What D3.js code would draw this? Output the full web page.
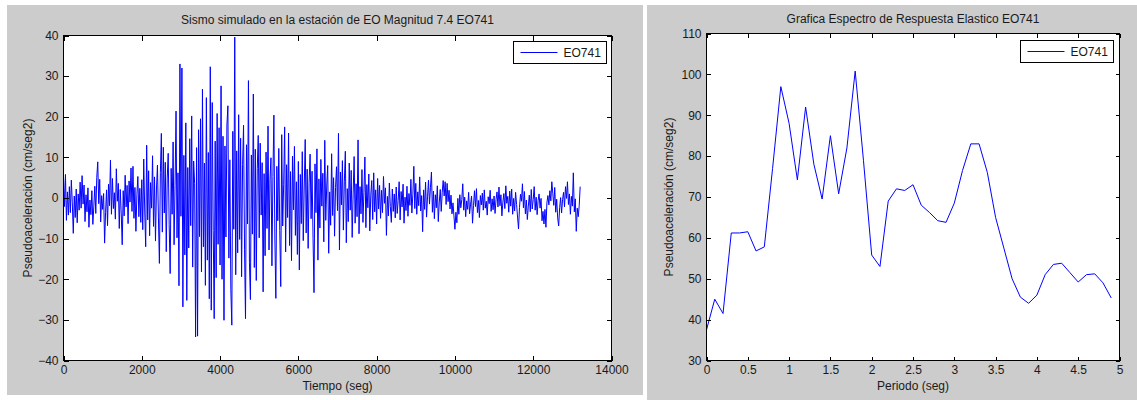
<!DOCTYPE html>
<html>
<head>
<meta charset="utf-8">
<script src="https://cdn.jsdelivr.net/npm/d3@7"></script>
<style>
  html, body { margin: 0; padding: 0; background: #ffffff; }
  svg { display: block; }
  text { font-family: "Liberation Sans", Arial, Helvetica, sans-serif; font-size: 12px; fill: #1a1a1a; }
</style>
</head>
<body>
<svg id="fig" width="1137" height="400"></svg>
<script>
// ---- Accelerogram: simulated record at station EO, sampled every 25 s ----
const sampleStep = 25;
const accel = [
  5.2, -2.1, 5.8, -5.5, 1.5, -4.2, 2.8, -3.6, 4.4, -1.2, -8.7, 0.5, -4.8, 2.2, -6.1, 1.0, -3.0, 3.9, -2.5, 5.5,
  -1.5, 3.2, -5.8, 0.8, -3.4, 2.5, -7.2, -0.5, -4.1, 1.8, -6.5, -2.0, 2.9, -3.8, 5.1, 8.9, -1.4, 4.6, -5.9, 0.6,
  -2.8, 1.1, -11.1, -3.5, 2.0, -6.8, 3.4, -1.9, 9.3, -4.0, 4.8, -2.6, 1.3, -5.2, 7.2, -0.8, 3.6, -7.5, 2.1, -3.9,
  -11.5, 1.8, -4.4, 5.6, -2.2, 3.1, -6.3, 4.2, -1.0, 7.4, -3.3, 7.8, -5.0, 2.6, -8.2, 0.9, 5.3, -4.6, 2.4, -6.0,
  4.5, -7.8, 9.6, -3.2, -12.0, 13.0, -5.4, 6.7, -9.3, 3.8, -2.5, 10.4, -7.0, 5.2, -10.6, 2.2, 8.1, -4.7, -16.1, 6.3,
  15.9, -8.4, 12.5, -3.7, 8.8, -13.2, 4.9, 11.0, -6.6, -18.6, 7.3, -4.0, 13.8, -11.5, 3.0, 21.4, -9.8, 6.2, -21.6, 33.0,
  -4.5, 32.0, -26.8, 10.5, -14.0, 18.5, -25.2, 7.5, -12.3, 14.6, -6.8, 20.2, -17.0, 9.1, 3.5, -34.2, 12.4, -34.0, 16.8, -9.5,
  19.5, -18.2, 26.8, -12.0, 8.6, -21.5, 24.7, -15.3, 11.2, -24.8, 32.3, -27.6, 23.5, -8.0, -29.7, 14.0, -19.6, 20.8, -11.4, 17.3,
  -16.5, 27.6, -20.0, 15.2, -30.1, 12.8, -9.6, 18.0, 22.7, -14.8, 9.4, -22.6, -31.3, 16.4, -7.7, 39.6, -18.9, 11.6, -13.5, 20.5,
  -10.2, 14.7, -19.4, 8.3, 17.9, -12.6, -29.7, 13.1, -6.4, 28.9, -15.8, -25.0, 10.6, -8.9, 25.6, -17.1, 12.0, -20.3, 7.2, 15.4,
  -9.8, 13.5, -4.2, 8.7, -23.1, 6.0, -14.2, 11.3, -7.5, 17.7, -12.8, 4.6, 9.9, -16.7, 5.3, 20.4, -10.1, -24.7, 7.8, -5.6,
  12.2, -8.0, -21.8, 15.6, -6.9, 3.4, 17.5, -13.3, 8.2, -4.8, 16.0, -11.7, 6.5, -15.4, 10.3, -2.9, 12.7, -9.2, 4.0, -13.9,
  9.0, -17.7, 5.8, -6.3, 11.4, -10.5, 2.7, 14.4, -8.6, 7.1, -12.4, 3.9, 10.8, -5.1, 6.6, -9.9, -23.3, 8.4, -3.6, 12.1,
  -15.3, 4.7, -7.4, 9.5, -2.0, 6.1, -10.8, 14.2, -5.5, 3.2, 8.0, -13.6, 1.5, -6.7, 10.9, -4.3, 5.0, -9.4, 2.6, 7.7,
  -3.1, 15.9, -12.8, 6.4, -1.7, 9.2, -7.9, 4.1, 11.5, -11.0, 2.3, -5.8, 8.6, -3.0, 6.8, -9.7, 1.2, 10.2, -6.2, 3.5,
  -4.6, 14.3, -8.8, 2.8, -3.9, 7.0, -6.0, 1.4, 10.1, -7.3, 3.3, -2.4, 5.9, -8.1, 0.7, 4.3, -5.3, 6.2, -3.4, 2.0,
  -6.4, 4.8, -2.7, 3.1, -5.0, 1.9, -3.6, 5.3, -1.3, 2.5, -9.2, 0.4, -4.4, 3.7, -2.1, -6.0, 2.2, -3.3, 1.0, -4.9,
  2.7, -3.8, -0.6, 4.0, -5.4, 1.6, -2.2, 3.4, -6.2, 0.2, -3.1, 2.9, -4.5, 1.1, -1.8, 4.6, -3.7, 0.9, 7.8, -2.6,
  3.6, -4.0, 1.5, -1.9, 5.2, -3.2, 0.6, -8.3, 2.0, -2.8, 3.9, -4.7, 0.3, 4.4, -1.5, 2.6, 6.4, -3.5, 1.7, -5.1,
  0.8, -2.4, 3.0, -5.8, -1.0, 2.1, -3.3, 1.4, 4.3, 0.5, 4.0, -1.6, 3.6, -0.9, 1.9, -2.7, 0.7, -3.9, -1.2, -4.4,
  -7.7, -3.5, -6.1, -0.1, -4.0, 0.8, -2.4, -0.4, 3.5, -3.0, 0.2, -4.6, -0.7, -2.8, 1.4, -3.9, -1.5, 0.5, -6.2, -1.8,
  1.8, -2.1, 2.3, -3.6, -0.6, -4.8, 0.6, -1.7, 1.2, -3.0, 2.0, -2.5, -0.8, -4.2, 0.3, -1.4, 1.9, -3.3, -0.2, -2.9,
  0.5, -3.8, -0.4, 1.5, -2.2, 2.7, -1.9, 0.8, -4.4, -1.0, 1.1, -2.6, 3.0, -1.3, 0.4, -3.5, 1.7, -2.0, 2.2, -4.0,
  -0.1, -3.2, 1.4, -1.6, -4.7, -7.6, -2.3, 0.9, -0.8, 3.5, -2.4, 1.6, -3.9, -0.5, -5.3, -2.0, 0.7, -3.4, 2.1, -2.7,
  -0.4, 2.8, -3.0, 0.2, -4.1, -0.6, 1.0, -2.5, -0.1, -5.6, -3.3, -6.4, -2.8, -7.2, -1.2, 0.6, -1.7, 1.8, -0.7, 4.0,
  1.2, -1.8, 2.6, -3.5, -0.3, -4.9, -6.9, -2.4, 0.1, -3.7, -0.4, 1.4, -2.2, 2.8, -0.1, 4.0, -1.6, 1.0, -4.0, 0.4,
  -2.0, 6.2, -3.4, -0.2, -8.2, -2.5, -4.6, -1.9, 2.8
];
const timeTicks = [0, 2000, 4000, 6000, 8000, 10000, 12000, 14000];
const accelTicks = [-40, -30, -20, -10, 0, 10, 20, 30, 40];

// ---- Elastic response spectrum ----
const periods = [
  0, 0.1, 0.2, 0.3, 0.4, 0.5, 0.6, 0.7, 0.8, 0.9,
  1.0, 1.1, 1.2, 1.3, 1.4, 1.5, 1.6, 1.7, 1.8, 1.9,
  2.0, 2.1, 2.2, 2.3, 2.4, 2.5, 2.6, 2.7, 2.8, 2.9,
  3.0, 3.1, 3.2, 3.3, 3.4, 3.5, 3.6, 3.7, 3.8, 3.9,
  4.0, 4.1, 4.2, 4.3, 4.4, 4.5, 4.6, 4.7, 4.8, 4.9
];
const spectrum = [
  37.5, 45.0, 41.5, 61.2, 61.2, 61.5, 56.8, 57.8, 77.0, 97.0,
  88.0, 74.2, 92.0, 78.0, 69.5, 85.0, 70.8, 82.0, 100.8, 79.0,
  55.8, 53.0, 69.0, 72.0, 71.6, 73.0, 68.0, 66.2, 64.2, 63.8,
  68.5, 76.5, 83.0, 83.0, 76.0, 65.0, 57.5, 50.0, 45.5, 44.0,
  46.0, 51.0, 53.5, 53.8, 51.5, 49.2, 51.0, 51.2, 49.0, 45.3
];
const periodTicks = [0, 0.5, 1, 1.5, 2, 2.5, 3, 3.5, 4, 4.5, 5];
const spectrumTicks = [30, 40, 50, 60, 70, 80, 90, 100, 110];

const seriesName = "EO741";
const lineColor = "#0000ff";

const svg = d3.select("#fig");

// Figure backgrounds
svg.append("rect").attr("x", 7).attr("y", 5).attr("width", 636).attr("height", 390).attr("fill", "#cccccc");
svg.append("rect").attr("x", 647).attr("y", 5).attr("width", 490).attr("height", 395).attr("fill", "#cccccc");

function drawPanel(cfg) {
  const { left, top, right, bottom } = cfg.box;
  const x = d3.scaleLinear().domain(cfg.xDomain).range([left, right]);
  const y = d3.scaleLinear().domain(cfg.yDomain).range([bottom, top]);
  const g = svg.append("g");
  const clipId = "clip-" + cfg.id;

  g.append("clipPath").attr("id", clipId)
    .append("rect").attr("x", left).attr("y", top).attr("width", right - left).attr("height", bottom - top);

  g.append("rect").attr("x", left).attr("y", top).attr("width", right - left).attr("height", bottom - top)
    .attr("fill", "#ffffff");

  // data line
  g.append("path")
    .datum(cfg.points)
    .attr("clip-path", `url(#${clipId})`)
    .attr("fill", "none")
    .attr("stroke", lineColor)
    .attr("stroke-width", 1)
    .attr("stroke-linejoin", "miter")
    .attr("d", d3.line().x(d => x(d[0])).y(d => y(d[1])));

  const tl = cfg.tickLen;
  const axB = d3.axisBottom(x).tickValues(cfg.xTicks).tickSizeInner(-tl).tickSizeOuter(0).tickPadding(5)
    .tickFormat(d3.format("~g"));
  const axT = d3.axisTop(x).tickValues(cfg.xTicks).tickSizeInner(-tl).tickSizeOuter(0).tickFormat("");
  const axL = d3.axisLeft(y).tickValues(cfg.yTicks).tickSizeInner(-tl).tickSizeOuter(0).tickPadding(5)
    .tickFormat(d3.format("~g"));
  const axR = d3.axisRight(y).tickValues(cfg.yTicks).tickSizeInner(-tl).tickSizeOuter(0).tickFormat("");

  const styleAxis = sel => {
    sel.select(".domain").remove();
    sel.selectAll(".tick line").attr("stroke", "#000").attr("shape-rendering", "crispEdges");
    sel.selectAll(".tick text").attr("fill", "#1a1a1a")
      .style("font-family", '"Liberation Sans", Arial, sans-serif').style("font-size", "12px");
  };
  g.append("g").attr("transform", `translate(0,${bottom})`).call(axB).call(styleAxis);
  g.append("g").attr("transform", `translate(0,${top})`).call(axT).call(styleAxis);
  g.append("g").attr("transform", `translate(${left},0)`).call(axL).call(styleAxis);
  g.append("g").attr("transform", `translate(${right},0)`).call(axR).call(styleAxis);

  // axes box
  g.append("rect").attr("x", left).attr("y", top).attr("width", right - left).attr("height", bottom - top)
    .attr("fill", "none").attr("stroke", "#000").attr("stroke-width", 1).attr("shape-rendering", "crispEdges");

  const cx = (left + right) / 2;
  g.append("text").attr("x", cx).attr("y", cfg.titleY).attr("text-anchor", "middle")
    .attr("dominant-baseline", "central").text(cfg.title);
  g.append("text").attr("x", cx).attr("y", 386).attr("text-anchor", "middle")
    .attr("dominant-baseline", "central").text(cfg.xLabel);
  g.append("text").attr("transform", `translate(${cfg.yLabelX},${(top + bottom) / 2}) rotate(-90)`)
    .attr("text-anchor", "middle").attr("dominant-baseline", "central").text(cfg.yLabel);

  // legend
  const lg = cfg.legend;
  g.append("rect").attr("x", lg.x).attr("y", lg.y).attr("width", lg.w).attr("height", lg.h)
    .attr("fill", "#ffffff").attr("stroke", "#000").attr("shape-rendering", "crispEdges");
  g.append("line").attr("x1", lg.x + 7).attr("x2", lg.x + 44).attr("y1", lg.y + lg.h / 2).attr("y2", lg.y + lg.h / 2)
    .attr("stroke", lineColor).attr("stroke-width", 1);
  g.append("text").attr("x", lg.x + 50).attr("y", lg.y + lg.h / 2 + 0.5).attr("dominant-baseline", "central")
    .text(seriesName);
}

drawPanel({
  id: "accel",
  box: { left: 63.5, top: 35.5, right: 611.5, bottom: 360.5 },
  xDomain: [0, 14000], yDomain: [-40, 40],
  xTicks: timeTicks, yTicks: accelTicks, tickLen: 5,
  points: accel.map((v, i) => [i * sampleStep, v]),
  title: "Sismo simulado en la estación de EO Magnitud 7.4 EO741",
  titleY: 20,
  xLabel: "Tiempo (seg)",
  yLabel: "Pseudoaceleración (cm/seg2)",
  yLabelX: 27.5,
  legend: { x: 513.5, y: 41.5, w: 93, h: 22 }
});

drawPanel({
  id: "spec",
  box: { left: 706.5, top: 33.5, right: 1119.5, bottom: 360.5 },
  xDomain: [0, 5], yDomain: [30, 110],
  xTicks: periodTicks, yTicks: spectrumTicks, tickLen: 4,
  points: periods.map((p, i) => [p, spectrum[i]]),
  title: "Grafica Espectro de Respuesta Elastico EO741",
  titleY: 19,
  xLabel: "Periodo (seg)",
  yLabel: "Pseudoaceleración (cm/seg2)",
  yLabelX: 668.5,
  legend: { x: 1020.5, y: 40.5, w: 93, h: 22 }
});
</script>
</body>
</html>
